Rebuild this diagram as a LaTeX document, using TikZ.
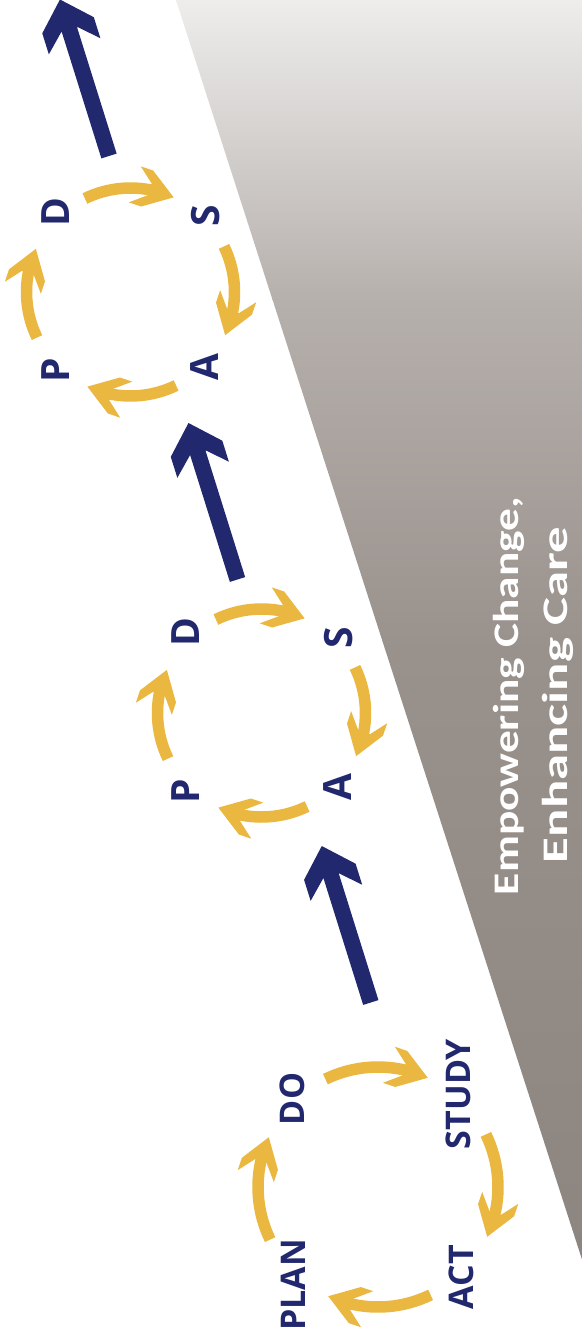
\documentclass[tikz,border=0pt]{standalone}
\usepackage{fontspec}
\setmainfont{Open Sans}
\newfontfamily\bigfont{Carlito}
\usepackage{graphicx}
\definecolor{navy}{RGB}{34,40,110}
\definecolor{gold}{RGB}{234,184,64}
\definecolor{gA}{RGB}{238,237,236}
\definecolor{gB}{RGB}{182,176,172}
\definecolor{gC}{RGB}{153,145,140}
\definecolor{gD}{RGB}{141,133,128}
\tikzset{
  navyarrow/.pic={\fill[navy] (0,8) -- (133,8) -- (115,27) -- (137,27) -- (164,0) -- (137,-27) -- (115,-27) -- (133,-8) -- (0,-8) -- cycle;},
  goldhead/.pic={\fill[gold] (0,0) -- (-28,19) -- (-41,19) -- (-25,6) -- (-25,-6) -- (-41,-19) -- (-28,-19) -- cycle;},
  goldarc/.style={draw=gold, line width=11.5pt},
  letter/.style={text=navy, font=\fontsize{39}{39}\selectfont\bfseries, inner sep=0pt, rotate=90},
  word/.style={text=navy, font=\fontsize{34}{34}\selectfont\bfseries, inner sep=0pt, rotate=90},
  slogan/.style={text=white, font=\bigfont\fontsize{36}{36}\selectfont\bfseries, inner sep=0pt, rotate=90, anchor=base}
}
\begin{document}
\begin{tikzpicture}[x=1pt,y=1pt]
\useasboundingbox (0,0) rectangle (581,-1338);
\fill[white] (0,0) rectangle (581,-1338);
% gray band
\shade[top color=gA, bottom color=gB] (176,0) -- (582,0) -- (582,-300) -- (272.6,-300) -- cycle;
\shade[top color=gB, bottom color=gC] (272.3,-299) -- (582,-299) -- (582,-650) -- (385.3,-650) -- cycle;
\shade[top color=gC, bottom color=gD] (385,-649) -- (582,-649) -- (582,-1259.5) -- cycle;
% slogan
\node[slogan] (s1) at (518,-696) {\resizebox{398pt}{\height}{Empowering Change,}};
\node[slogan] (s2) at (567,-695) {\resizebox{336pt}{\height}{Enhancing Care}};
% navy arrows
\coordinate (tail1) at (109,-156);
\coordinate (tail2) at (237.5,-579.5);
\coordinate (tail3) at (370.8,-1002.5);
\foreach \t in {tail1,tail2,tail3} {\pic[rotate=107.4] at (\t) {navyarrow};}
% cycle centres
\coordinate (C1) at (130.5,-292);
\coordinate (C2) at (261.5,-713);
\coordinate (C3) at (378,-1187);
\foreach \C/\r/\e in {C1/104/8, C2/104/8, C3/120/7} {
  \foreach \c in {90,0,-90,180} {
    \pgfmathsetmacro\a{\c+26}
    \pgfmathsetmacro\b{\c-24.5+\e}
    \pgfmathsetmacro\tp{\c-24.5}
    \pgfmathsetmacro\rot{\c-24.5-84}
    \draw[goldarc] ([shift={(\C)}]\a:\r) arc[start angle=\a, end angle=\b, radius=\r];
    \pic[rotate=\rot] at ([shift={(\C)}]\tp:\r) {goldhead};
  }
}
% letters
\node[letter] (d1) at (55.7,-212.3) {D};
\node[letter] (st1) at (205.7,-215.7) {S};
\node[letter] (a1) at (205,-367) {A};
\node[letter] (p1) at (55.7,-370) {P};
\node[letter] (d2) at (186,-632.5) {D};
\node[letter] (st2) at (339,-638) {S};
\node[letter] (a2) at (338,-787) {A};
\node[letter] (p2) at (186,-791.5) {P};
\node[word] (do) at (292.5,-1099) {DO};
\node[word] (study) at (458.5,-1094) {STUDY};
\node[word] (act) at (461.5,-1277) {ACT};
\node[word] (plan) at (293.5,-1285) {PLAN};
\end{tikzpicture}
\end{document}
